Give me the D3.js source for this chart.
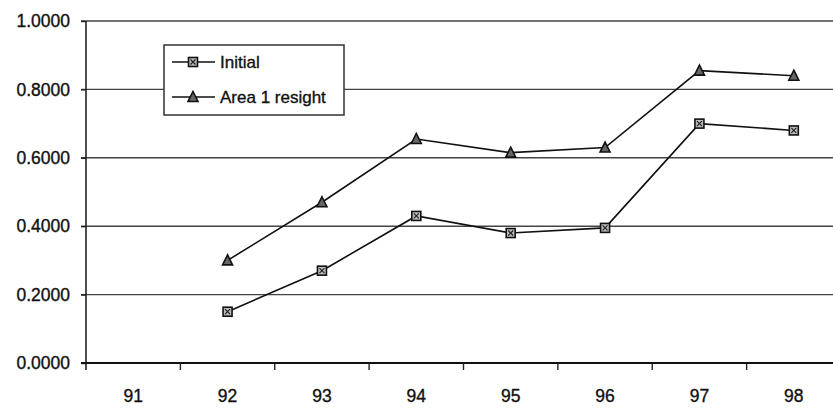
<!DOCTYPE html>
<html>
<head>
<meta charset="utf-8">
<script src="https://cdn.jsdelivr.net/npm/d3@7"></script>
<style>
  html, body { margin: 0; padding: 0; background: #fff; }
  svg { display: block; }
  text { font-family: "Liberation Sans", Arial, sans-serif; fill: #111; stroke: #111; stroke-width: 0.35px; }
</style>
</head>
<body>
<svg id="chart" width="833" height="413"></svg>
<script>
// Survey years (x categories) and the two detection-rate series
const years = ["91", "92", "93", "94", "95", "96", "97", "98"];
const initial = [null, 0.15, 0.27, 0.43, 0.38, 0.395, 0.70, 0.68];
const resight = [null, 0.30, 0.47, 0.655, 0.615, 0.63, 0.855, 0.84];
const yTicks = [0, 0.2, 0.4, 0.6, 0.8, 1.0];
const seriesNames = ["Initial", "Area 1 resight"];

const svg = d3.select("#chart");
const plotLeft = 86, plotTop = 21, plotBottom = 363, plotRight = 841;

const x = d3.scaleBand().domain(years).range([plotLeft, plotRight]).paddingInner(0).paddingOuter(0);
const y = d3.scaleLinear().domain([0, 1]).range([plotBottom, plotTop]);

// Horizontal gridlines
svg.append("g")
  .selectAll("line")
  .data(yTicks.filter(d => d > 0))
  .join("line")
  .attr("x1", plotLeft - 5).attr("x2", plotRight)
  .attr("y1", d => y(d)).attr("y2", d => y(d))
  .attr("stroke", "#444").attr("stroke-width", 1.4);

// Y axis
const yAxis = d3.axisLeft(y).tickValues(yTicks).tickFormat(d3.format(".4f")).tickSize(5).tickPadding(11);
const gy = svg.append("g").attr("transform", `translate(${plotLeft},0)`).call(yAxis);
gy.select(".domain").remove();
gy.selectAll(".tick line").attr("stroke", "#222").attr("stroke-width", 1.4);
gy.selectAll(".tick text").style("font-size", "17.5px").attr("fill", "#111")
  .style("font-family", "'Liberation Sans', Arial, sans-serif");
svg.append("line")
  .attr("x1", plotLeft).attr("x2", plotLeft).attr("y1", plotTop).attr("y2", plotBottom + 7)
  .attr("stroke", "#222").attr("stroke-width", 1.6);

// X axis: ticks sit on the category boundaries, labels in the middle
svg.append("line")
  .attr("x1", plotLeft - 5).attr("x2", plotRight).attr("y1", plotBottom).attr("y2", plotBottom)
  .attr("stroke", "#111").attr("stroke-width", 2);
svg.append("g")
  .selectAll("line")
  .data(years.slice(1))
  .join("line")
  .attr("x1", d => x(d)).attr("x2", d => x(d))
  .attr("y1", plotBottom).attr("y2", plotBottom + 7)
  .attr("stroke", "#222").attr("stroke-width", 1.4);
svg.append("g")
  .selectAll("text")
  .data(years)
  .join("text")
  .attr("x", d => x(d) + x.bandwidth() / 2)
  .attr("y", 402)
  .attr("text-anchor", "middle")
  .style("font-size", "17.5px")
  .text(d => d);

const cx = d => x(d) + x.bandwidth() / 2;
const line = d3.line()
  .defined(d => d.v != null)
  .x(d => cx(d.year))
  .y(d => y(d.v));

function pts(vals) { return years.map((yr, i) => ({ year: yr, v: vals[i] })); }

// Marker painters
function squareMarker(g, px, py) {
  const s = 9;
  g.append("rect").attr("x", px - s / 2).attr("y", py - s / 2).attr("width", s).attr("height", s)
    .attr("fill", "#bbb").attr("stroke", "#111").attr("stroke-width", 1.6);
  g.append("path")
    .attr("d", `M${px - 2.5},${py - 2.5}L${px + 2.5},${py + 2.5}M${px + 2.5},${py - 2.5}L${px - 2.5},${py + 2.5}`)
    .attr("stroke", "#222").attr("stroke-width", 1.2);
}
function triangleMarker(g, px, py) {
  const h = 9, w = 10;
  g.append("path")
    .attr("d", `M${px},${py - h / 2 - 1}L${px + w / 2},${py + h / 2}L${px - w / 2},${py + h / 2}Z`)
    .attr("fill", "#666").attr("stroke", "#111").attr("stroke-width", 1.6).attr("stroke-linejoin", "miter");
}

const series = [
  { name: seriesNames[0], values: initial, marker: squareMarker },
  { name: seriesNames[1], values: resight, marker: triangleMarker }
];

series.forEach(s => {
  const data = pts(s.values);
  svg.append("path").datum(data)
    .attr("d", line)
    .attr("fill", "none").attr("stroke", "#111").attr("stroke-width", 1.6);
  const mg = svg.append("g");
  data.filter(d => d.v != null).forEach(d => s.marker(mg, cx(d.year), y(d.v)));
});

// Legend
const lg = svg.append("g");
lg.append("rect").attr("x", 164).attr("y", 45).attr("width", 180).attr("height", 70)
  .attr("fill", "#fff").attr("stroke", "#333").attr("stroke-width", 1.5);
series.forEach((s, i) => {
  const ly = 62 + i * 35;
  lg.append("line").attr("x1", 172).attr("x2", 215).attr("y1", ly).attr("y2", ly)
    .attr("stroke", "#111").attr("stroke-width", 1.6);
  s.marker(lg, 193, ly);
  lg.append("text").attr("x", 220).attr("y", ly + 6).style("font-size", "17px").text(s.name);
});
</script>
</body>
</html>
